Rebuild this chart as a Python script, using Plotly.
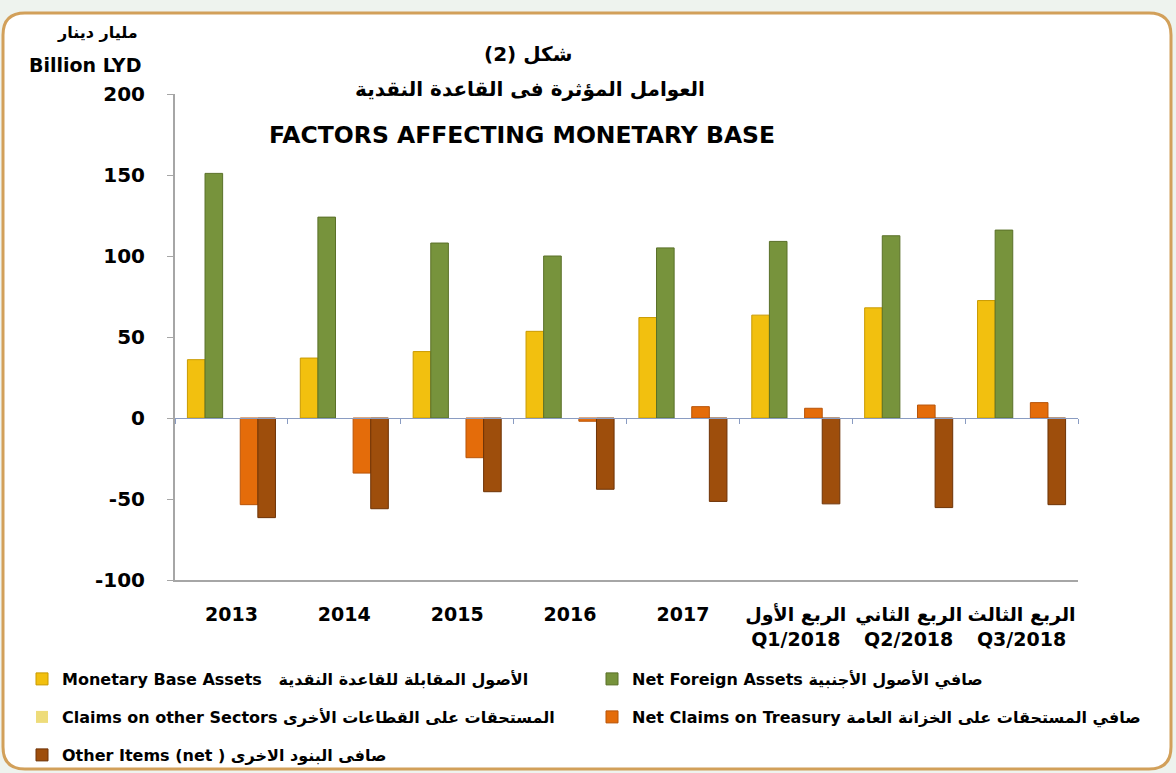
import plotly.graph_objects as go

# ---------------- data ----------------
categories = ["2013", "2014", "2015", "2016", "2017",
              "الربع الأول<br>Q1/2018", "الربع الثاني<br>Q2/2018", "الربع الثالث<br>Q3/2018"]
monetary_base_assets = [36, 37, 41, 53.5, 62, 63.5, 68, 72.5]
net_foreign_assets = [151, 124, 108, 100, 105, 109, 112.5, 116]
claims_other_sectors = [0, 0, 0, 0, 0, 0, 0, 0]
net_claims_treasury = [-53.5, -34, -24.5, -2, 7, 6, 8, 9.5]
other_items_net = [-61.5, -56, -45.5, -44, -51.5, -53, -55.3, -53.5]

series_names = [
    "Monetary Base Assets   الأصول المقابلة للقاعدة النقدية",
    "Net Foreign Assets صافي الأصول الأجنبية",
    "Claims on other Sectors المستحقات على القطاعات الأخرى",
    "Net Claims on Treasury صافي المستحقات على الخزانة العامة",
    "Other Items (net ) صافى البنود الاخرى",
]
series_values = [monetary_base_assets, net_foreign_assets, claims_other_sectors,
                 net_claims_treasury, other_items_net]
series_colors = ["#F2C00F", "#77933C", "#EEDC7A", "#E46C0A", "#9E4E0C"]
series_edges = ["#C99A00", "#5A7028", "#D0BE5A", "#B85408", "#6E3306"]
series_edge_widths = [1, 1, 0, 1, 1]

y_ticks = [200, 150, 100, 50, 0, -50, -100]

# ---------------- layout helpers ----------------
W, H = 1176, 773
L, R, T, B = 175, 1078, 94, 580
FONT = "DejaVu Sans"


def px(x):
    return (x - L) / (R - L)


def py(y):
    return (B - y) / (B - T)


# legend slot for each series (left / right column, three rows)
legend_ids = ["legend", "legend2", "legend3", "legend4", "legend5"]
legend_pos = [(22, 679), (592, 679), (22, 717), (592, 717), (22, 755)]

fig = go.Figure()
for name, vals, col, edge, ew, lg in zip(series_names, series_values, series_colors,
                                          series_edges, series_edge_widths, legend_ids):
    fig.add_trace(go.Bar(
        x=categories, y=vals, name=name, legend=lg,
        marker=dict(color=col, line=dict(color=edge, width=ew)),
    ))

# helper trace so the zero-line axis knows the categories (draws nothing)
fig.add_trace(go.Scatter(x=categories, y=[None] * len(categories), xaxis="x2",
                         yaxis="y", showlegend=False, hoverinfo="skip", mode="lines"))

# rounded frame
x0, x1, y0, y1, r = 3, 1171, 13, 769, 22
path = (f"M {px(x0 + r)},{py(y0)} L {px(x1 - r)},{py(y0)} "
        f"Q {px(x1)},{py(y0)} {px(x1)},{py(y0 + r)} "
        f"L {px(x1)},{py(y1 - r)} Q {px(x1)},{py(y1)} {px(x1 - r)},{py(y1)} "
        f"L {px(x0 + r)},{py(y1)} Q {px(x0)},{py(y1)} {px(x0)},{py(y1 - r)} "
        f"L {px(x0)},{py(y0 + r)} Q {px(x0)},{py(y0)} {px(x0 + r)},{py(y0)} Z")
fig.add_shape(type="path", path=path, xref="paper", yref="paper",
              fillcolor="white", line=dict(color="#D2A05A", width=3), layer="below")

ann_font = dict(family=FONT, color="black", weight="bold")
annotations = [
    ("مليار دينار", 97, 32, 16),
    ("Billion LYD", 85, 65, 19),
    ("شكل (2)", 528, 54, 20),
    ("العوامل المؤثرة فى القاعدة النقدية", 530, 89, 20),
    ("FACTORS AFFECTING MONETARY BASE", 522, 135, 23.5),
]
for text, ax, ay, size in annotations:
    fig.add_annotation(text=text, x=px(ax), y=py(ay), xref="paper", yref="paper",
                       showarrow=False, xanchor="center", yanchor="middle",
                       font=dict(size=size, **ann_font))

legend_common = dict(orientation="h", xref="container", yref="container",
                     font=dict(family=FONT, size=16, color="black", weight="bold"),
                     bgcolor="rgba(0,0,0,0)", itemclick=False, itemdoubleclick=False,
                     xanchor="left", yanchor="middle")
legends = {lid: dict(x=lx / W, y=1 - ly / H, **legend_common)
           for lid, (lx, ly) in zip(legend_ids, legend_pos)}

fig.update_layout(
    width=W, height=H,
    margin=dict(l=L, r=W - R, t=T, b=H - B),
    paper_bgcolor="#EEF3EE",
    plot_bgcolor="rgba(0,0,0,0)",
    font=dict(family=FONT, color="black", weight="bold"),
    barmode="group", bargap=0.22, bargroupgap=0,
    showlegend=True,
    **legends,
    xaxis=dict(
        type="category", showline=True, linecolor="#A6A6A6", linewidth=2,
        ticks="", showgrid=False, zeroline=False, automargin=False,
        tickfont=dict(family=FONT, size=19, color="black", weight="bold"),
        ticklabelstandoff=16,
    ),
    xaxis2=dict(
        type="category", overlaying="x", matches="x", anchor="free",
        position=(0 - y_ticks[-1]) / (y_ticks[0] - y_ticks[-1]),
        showline=True, linecolor="#8A9CC2", linewidth=1,
        ticks="outside", tickson="boundaries", ticklen=5, tickcolor="#8A9CC2",
        showticklabels=False, showgrid=False, zeroline=False, automargin=False,
    ),
    yaxis=dict(
        range=[y_ticks[-1], y_ticks[0]], tickvals=y_ticks,
        ticktext=[str(v) for v in y_ticks],
        showline=True, linecolor="#A6A6A6", linewidth=2,
        ticks="outside", ticklen=6, tickcolor="#A6A6A6",
        showgrid=False, zeroline=False, automargin=False,
        tickfont=dict(family=FONT, size=20, color="black", weight="bold"),
        ticklabelstandoff=18,
    ),
)

fig.write_html("out.html", config={"displayModeBar": False},
               post_script="document.body.style.margin='0';"
                           "document.body.style.overflow='hidden';")
